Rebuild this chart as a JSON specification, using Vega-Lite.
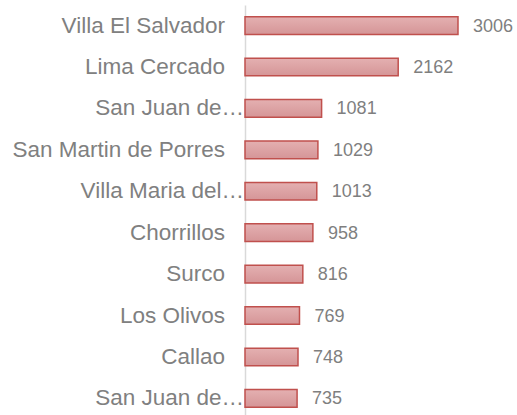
{
  "$schema": "https://vega.github.io/schema/vega-lite/v6.json",
  "autosize": {"type": "none"},
  "padding": {"left": 245, "top": 5, "right": 24, "bottom": 0},
  "width": 248,
  "height": 410,
  "background": "white",
  "config": {"view": {"stroke": null}, "font": "Liberation Sans"},
  "data": {
    "values": [
      {"district": "Villa El Salvador", "label": "Villa El Salvador", "truncated": false, "cases": 3006},
      {"district": "Lima Cercado", "label": "Lima Cercado", "truncated": false, "cases": 2162},
      {"district": "San Juan de Lurigancho", "label": "San Juan de…", "truncated": true, "cases": 1081},
      {"district": "San Martin de Porres", "label": "San Martin de Porres", "truncated": false, "cases": 1029},
      {"district": "Villa Maria del Triunfo", "label": "Villa Maria del…", "truncated": true, "cases": 1013},
      {"district": "Chorrillos", "label": "Chorrillos", "truncated": false, "cases": 958},
      {"district": "Surco", "label": "Surco", "truncated": false, "cases": 816},
      {"district": "Los Olivos", "label": "Los Olivos", "truncated": false, "cases": 769},
      {"district": "Callao", "label": "Callao", "truncated": false, "cases": 748},
      {"district": "San Juan de Miraflores", "label": "San Juan de…", "truncated": true, "cases": 735}
    ]
  },
  "encoding": {
    "y": {
      "field": "district",
      "type": "nominal",
      "sort": null,
      "scale": {"paddingInner": 0.575, "paddingOuter": 0.237, "align": 0.6},
      "axis": {
        "title": null,
        "ticks": false,
        "labels": false,
        "domainColor": "#d9d9d9",
        "domainWidth": 1.5
      }
    }
  },
  "layer": [
    {
      "mark": {
        "type": "bar",
        "stroke": "#c0504d",
        "strokeWidth": 1.5,
        "color": {
          "gradient": "linear",
          "x1": 0, "y1": 0, "x2": 0, "y2": 1,
          "stops": [
            {"offset": 0, "color": "#e4b0b1"},
            {"offset": 1, "color": "#d59597"}
          ]
        }
      },
      "encoding": {
        "x": {
          "field": "cases",
          "type": "quantitative",
          "scale": {"domain": [0, 3500], "nice": false},
          "axis": null
        }
      }
    },
    {
      "mark": {
        "type": "text",
        "align": "left",
        "baseline": "middle",
        "dx": 15,
        "dy": 1,
        "font": "Liberation Sans",
        "fontSize": 18,
        "color": "#7f7f7f"
      },
      "encoding": {
        "x": {"field": "cases", "type": "quantitative"},
        "text": {"field": "cases", "type": "quantitative"}
      }
    },
    {
      "transform": [{"filter": "!datum.truncated"}],
      "mark": {
        "type": "text",
        "align": "right",
        "baseline": "middle",
        "dx": -20,
        "dy": 0,
        "font": "Liberation Sans",
        "fontSize": 22.5,
        "color": "#808080"
      },
      "encoding": {
        "x": {"datum": 0, "type": "quantitative"},
        "text": {"field": "label"}
      }
    },
    {
      "transform": [{"filter": "datum.truncated"}],
      "mark": {
        "type": "text",
        "align": "right",
        "baseline": "middle",
        "dx": -1,
        "dy": 0,
        "font": "Liberation Sans",
        "fontSize": 22.5,
        "color": "#808080"
      },
      "encoding": {
        "x": {"datum": 0, "type": "quantitative"},
        "text": {"field": "label"}
      }
    }
  ]
}
